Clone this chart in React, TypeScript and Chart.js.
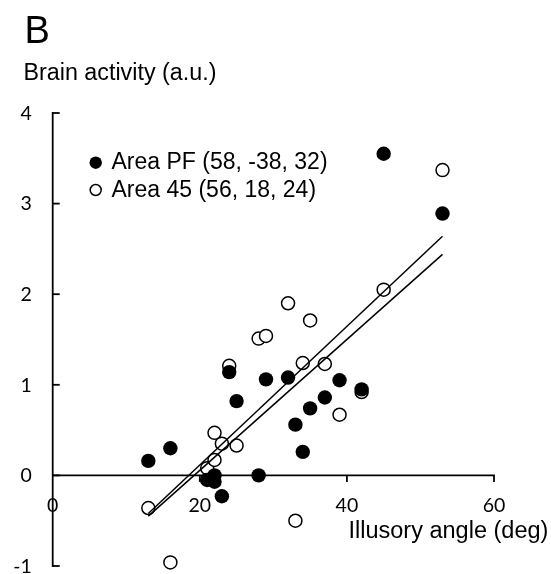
import React, { useEffect, useRef } from "react";
import { Chart, registerables } from "chart.js";

Chart.register(...registerables);

// ---- data ----
const illusoryAngle = [13, 16, 21, 22, 22, 23, 24, 25, 28, 29, 32, 33, 34, 35, 37, 39, 42, 45, 53];
const areaPF = [0.16, 0.3, -0.05, 0.0, -0.07, -0.23, 1.14, 0.82, 0.0, 1.06, 1.08, 0.56, 0.26, 0.74, 0.86, 1.05, 0.95, 3.55, 2.89];
const area45 = [-0.36, -0.96, 0.08, 0.47, 0.17, 0.35, 1.21, 0.33, 1.51, 1.54, 1.9, -0.5, 1.24, 1.71, 1.23, 0.67, 0.92, 2.05, 3.37];
const trendX = [13, 53];
const trendPF = [-0.45, 2.44];
const trend45 = [-0.42, 2.64];
const xTicks = [0, 20, 40, 60];
const yTicks = [-1, 0, 1, 2, 3, 4];
const legendLabels = ["Area PF (58, -38, 32)", "Area 45 (56, 18, 24)"];
const panelLabel = "B";
const yTitle = "Brain activity (a.u.)";
const xTitle = "Illusory angle (deg)";

const ARIAL = '"Liberation Sans", Arial, sans-serif';
const TICKFONT = 'Lato, "Open Sans", sans-serif';

const axesPlugin = {
  id: "customAxes",
  beforeDatasetsDraw(chart: any) {
    const ctx = chart.ctx;
    const xs = chart.scales.x;
    const ys = chart.scales.y;
    const x0 = xs.getPixelForValue(0);
    const y0 = ys.getPixelForValue(0);
    ctx.save();
    ctx.strokeStyle = "#000";
    ctx.lineWidth = 1.8;
    ctx.lineCap = "butt";
    // y axis
    ctx.beginPath();
    ctx.moveTo(x0, ys.getPixelForValue(yTicks[yTicks.length - 1]) - 0.9);
    ctx.lineTo(x0, ys.getPixelForValue(yTicks[0]) + 0.9);
    ctx.stroke();
    for (const v of yTicks) {
      const py = ys.getPixelForValue(v);
      ctx.beginPath();
      ctx.moveTo(x0, py);
      ctx.lineTo(x0 + 7, py);
      ctx.stroke();
    }
    // x axis at y = 0
    const xEnd = xs.getPixelForValue(xTicks[xTicks.length - 1]);
    ctx.beginPath();
    ctx.moveTo(x0, y0);
    ctx.lineTo(xEnd + 0.9, y0);
    ctx.stroke();
    for (const v of xTicks) {
      if (v === 0) continue;
      const px = xs.getPixelForValue(v);
      ctx.beginPath();
      ctx.moveTo(px, y0);
      ctx.lineTo(px, y0 + 6.5);
      ctx.stroke();
    }
    // tick labels
    ctx.fillStyle = "#000";
    ctx.font = `19.5px ${TICKFONT}`;
    ctx.textAlign = "right";
    ctx.textBaseline = "middle";
    for (const v of yTicks) {
      ctx.fillText(String(v), 31.8, ys.getPixelForValue(v) + 0.5);
    }
    ctx.textAlign = "center";
    for (const v of xTicks) {
      ctx.fillText(String(v), xs.getPixelForValue(v), y0 + 30);
    }
    ctx.restore();
  },
  afterDraw(chart: any) {
    const ctx = chart.ctx;
    ctx.save();
    ctx.fillStyle = "#000";
    ctx.textAlign = "left";
    ctx.textBaseline = "alphabetic";
    ctx.font = `38px ${ARIAL}`;
    ctx.fillText(panelLabel, 24.5, 43);
    ctx.font = `23.3px ${ARIAL}`;
    ctx.fillText(yTitle, 23.5, 80);
    ctx.font = `23.5px ${ARIAL}`;
    ctx.fillText(xTitle, 348.5, 537.7);
    // legend
    ctx.font = `23px ${ARIAL}`;
    ctx.fillText(legendLabels[0], 111.5, 169.3);
    ctx.fillText(legendLabels[1], 111.5, 196.7);
    ctx.beginPath();
    ctx.arc(95.7, 162.7, 6.2, 0, Math.PI * 2);
    ctx.fill();
    ctx.beginPath();
    ctx.lineWidth = 1.5;
    ctx.strokeStyle = "#000";
    ctx.arc(95.7, 190, 5.5, 0, Math.PI * 2);
    ctx.stroke();
    ctx.restore();
  },
};

export default function App() {
  const ref = useRef<HTMLCanvasElement | null>(null);
  useEffect(() => {
    if (!ref.current) return;
    const pts = (ys: number[], xs: number[]) => xs.map((x, i) => ({ x, y: ys[i] }));
    const chart = new Chart(ref.current, {
      type: "scatter",
      data: {
        datasets: [
          {
            label: "trend 45",
            data: pts(trend45, trendX),
            showLine: true,
            pointRadius: 0,
            borderColor: "#000",
            borderWidth: 1.5,
            order: 1,
            clip: false,
          } as any,
          {
            label: "trend PF",
            data: pts(trendPF, trendX),
            showLine: true,
            pointRadius: 0,
            borderColor: "#000",
            borderWidth: 1.5,
            order: 1,
            clip: false,
          } as any,
          {
            label: legendLabels[0],
            data: pts(areaPF, illusoryAngle),
            pointRadius: 7.2,
            pointBorderWidth: 0,
            backgroundColor: "#000",
            borderColor: "#000",
            order: 2,
            clip: false,
          } as any,
          {
            label: legendLabels[1],
            data: pts(area45, illusoryAngle),
            pointRadius: 6.5,
            pointBorderWidth: 1.5,
            backgroundColor: "#fff",
            borderColor: "#000",
            order: 3,
            clip: false,
          } as any,
        ],
      },
      options: {
        animation: false,
        responsive: false,
        devicePixelRatio: 1,
        layout: { padding: { left: 52.7, right: 57, top: 113, bottom: 6 } },
        scales: {
          x: { type: "linear", min: 0, max: 60, display: false },
          y: { type: "linear", min: -1, max: 4, display: false },
        },
        plugins: { legend: { display: false }, tooltip: { enabled: false } },
      },
      plugins: [axesPlugin],
    });
    return () => chart.destroy();
  }, []);
  return (
    <div style={{ position: "absolute", left: 0, top: 0, width: 551, height: 574, background: "#fff" }}>
      <canvas ref={ref} width={551} height={574} style={{ width: 551, height: 574, display: "block" }} />
    </div>
  );
}
